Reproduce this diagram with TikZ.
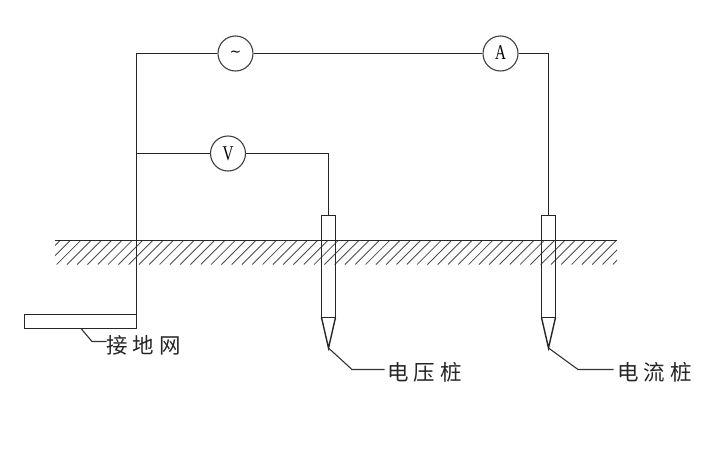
\documentclass[tikz,border=0pt]{standalone}
\usepackage{fontspec}
\setmainfont{Liberation Serif}
\newfontfamily\cjk[LetterSpace=22]{Noto Sans CJK SC}
\newfontfamily\meter[FakeStretch=0.72]{Liberation Serif}
\newfontfamily\sym{DejaVu Serif}
\tikzset{
  wire/.style={draw=black!85,line width=1.4pt},
  leader/.style={draw=black!80,line width=1.1pt},
  hatchline/.style={draw=black!70,line width=0.85pt},
  meterbox/.style={circle,draw=black!75,line width=1.1pt,fill=white,minimum size=35pt,inner sep=0pt,font=\meter\fontsize{21}{21}\selectfont},
  barbox/.style={rectangle,draw=black!85,line width=1.4pt,inner sep=0pt,outer sep=0pt},
  pilebox/.style={barbox,minimum width=14pt,minimum height=102pt},
  labeltext/.style={inner sep=0pt,anchor=west,font=\cjk\fontsize{21.5}{22}\selectfont,text=black!85}
}
\begin{document}
\begin{tikzpicture}[x=1pt,y=-1pt]
\useasboundingbox (0,0) rectangle (726,450);
\fill[white] (0,0) rectangle (726,450);
% ground hatching
\begin{scope}
\clip (55,239) rectangle (617,264.5);
\foreach \k in {0,...,58}{
  \draw[hatchline] ({60+\k*10.3},240.5) -- ({36+\k*10.3},264.5);
}
\end{scope}
\coordinate (gl) at (55,240.5);
\coordinate (gr) at (617,240.5);
\draw[wire] (gl) -- (gr);
% grounding grid and piles
\node[barbox,minimum width=112pt,minimum height=14pt] (grid) at (80.5,321.5) {};
\node[pilebox] (vpile) at (328.5,266.5) {};
\node[pilebox] (ipile) at (548.5,266.5) {};
\coordinate (vtip) at (328.5,348);
\coordinate (itip) at (548.5,348);
\draw[wire] (vpile.south west) -- (vtip) -- (vpile.south east);
\draw[wire] (ipile.south west) -- (itip) -- (ipile.south east);
% meters
\node[meterbox] (ac) at (235.5,53.5) {{\sym\fontsize{14}{14}\selectfont ∼}};
\node[meterbox] (am) at (500.5,53.5) {\raisebox{1pt}{A}};
\node[meterbox] (vm) at (228,153.5) {V};
% wiring
\coordinate (tl) at (136.5,53.5);
\coordinate (tr) at (548.5,53.5);
\coordinate (vj) at (136.5,153.5);
\coordinate (vr) at (328.5,153.5);
\draw[wire] (grid.north east) -- (tl) -- (ac);
\draw[wire] (ac) -- (am);
\draw[wire] (am) -- (tr) -- (ipile.north);
\draw[wire] (vj) -- (vm);
\draw[wire] (vm) -- (vr) -- (vpile.north);
% labels and leaders
\node[labeltext] (lgrid) at (106.5,345) {接地网};
\node[labeltext] (lv) at (387.5,372) {电压桩};
\node[labeltext] (li) at (617.5,372) {电流桩};
\coordinate (gridb) at (81,328.5);
\coordinate (gridk) at (92,341.5);
\coordinate (vk) at (352,369.5);
\coordinate (ik) at (578,369.5);
\draw[leader] (gridb) -- (gridk) -- (lgrid.west |- gridk);
\draw[leader] (vtip) -- (vk) -- ([xshift=-3pt]lv.west |- vk);
\draw[leader] (itip) -- (ik) -- ([xshift=-4pt]li.west |- ik);
\end{tikzpicture}
\end{document}
